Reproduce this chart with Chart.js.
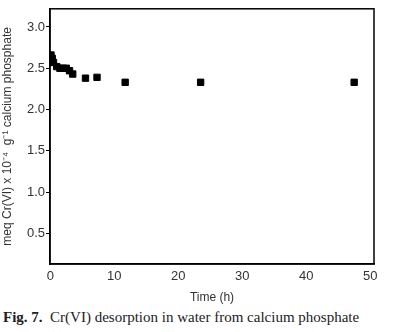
<!DOCTYPE html>
<html>
<head>
<meta charset="utf-8">
<script src="https://cdn.jsdelivr.net/npm/chart.js@4/dist/chart.umd.min.js"></script>
<style>
  html, body { margin: 0; padding: 0; background: #fff; }
  #wrap { position: relative; width: 400px; height: 305px; }
  #cap { position: absolute; left: 3px; top: 309px; font-family: "Liberation Serif", "Times New Roman", serif; font-size: 15px; color: #222; white-space: nowrap; }
</style>
</head>
<body>
<div id="wrap"><canvas id="c"></canvas></div>
<div id="cap"><b>Fig. 7.</b>&nbsp; Cr(VI) desorption in water from calcium phosphate</div>
<script>
const timeHours = [0.1, 0.3, 0.5, 1.0, 1.5, 2.0, 2.5, 3.0, 3.5, 5.5, 7.3, 11.7, 23.5, 47.5];
const crValues  = [2.66, 2.62, 2.57, 2.52, 2.50, 2.50, 2.50, 2.47, 2.43, 2.38, 2.39, 2.33, 2.33, 2.33];
const xTicks = [0, 10, 20, 30, 40, 50];
const yTicks = [0.5, 1.0, 1.5, 2.0, 2.5, 3.0];

const points = timeHours.map((t, i) => ({ x: t, y: crValues[i] }));

const boxPlugin = {
  id: 'box',
  afterDraw(chart) {
    const { ctx, chartArea: a } = chart;
    ctx.save();
    ctx.strokeStyle = '#000';
    ctx.lineWidth = 1.5;
    ctx.strokeRect(a.left, a.top, a.right - a.left, a.bottom - a.top);
    ctx.restore();
  }
};

new Chart(document.getElementById('c'), {
  type: 'scatter',
  data: {
    datasets: [{
      data: points,
      pointStyle: 'rect',
      pointRadius: 4.5,
      pointHoverRadius: 4.5,
      backgroundColor: '#000',
      borderColor: '#000',
      borderWidth: 1
    }]
  },
  options: {
    responsive: true,
    maintainAspectRatio: false,
    animation: false,
    layout: { padding: { top: 6, right: 26, left: 0, bottom: 0 } },
    plugins: { legend: { display: false }, tooltip: { enabled: false } },
    scales: {
      x: {
        type: 'linear',
        min: -0.05,
        max: 50.6,
        afterBuildTicks(s) { s.ticks = xTicks.map(v => ({ value: v })); },
        afterFit(s) { s.height = 41; },
        grid: { display: true, drawOnChartArea: false, drawTicks: false, color: '#000' },
        border: { display: true, color: '#000', width: 1.5 },
        ticks: { color: '#333', font: { family: 'Liberation Sans, Arial, sans-serif', size: 13 }, padding: 5, maxRotation: 0 },
        title: { display: true, text: 'Time (h)', color: '#333', font: { family: 'Liberation Sans, Arial, sans-serif', size: 12 }, padding: { top: 3, bottom: 0 } }
      },
      y: {
        type: 'linear',
        min: 0.13,
        max: 3.22,
        afterBuildTicks(s) { s.ticks = yTicks.map(v => ({ value: v })); },
        afterFit(s) { s.width = 50; },
        grid: { display: true, drawOnChartArea: false, drawTicks: true, tickLength: 4, color: '#000', tickColor: '#000' },
        border: { display: true, color: '#000', width: 1.5 },
        ticks: { color: '#333', font: { family: 'Liberation Sans, Arial, sans-serif', size: 13 }, padding: 1, callback: v => v.toFixed(1) },
        title: { display: true, text: 'meq Cr(VI) x 10\u207B\u2074  g\u207B\u00B9 calcium phosphate', color: '#333', font: { family: 'Liberation Sans, Arial, sans-serif', size: 12 }, padding: { top: 0, bottom: 0 } }
      }
    }
  },
  plugins: [boxPlugin]
});
</script>
</body>
</html>
